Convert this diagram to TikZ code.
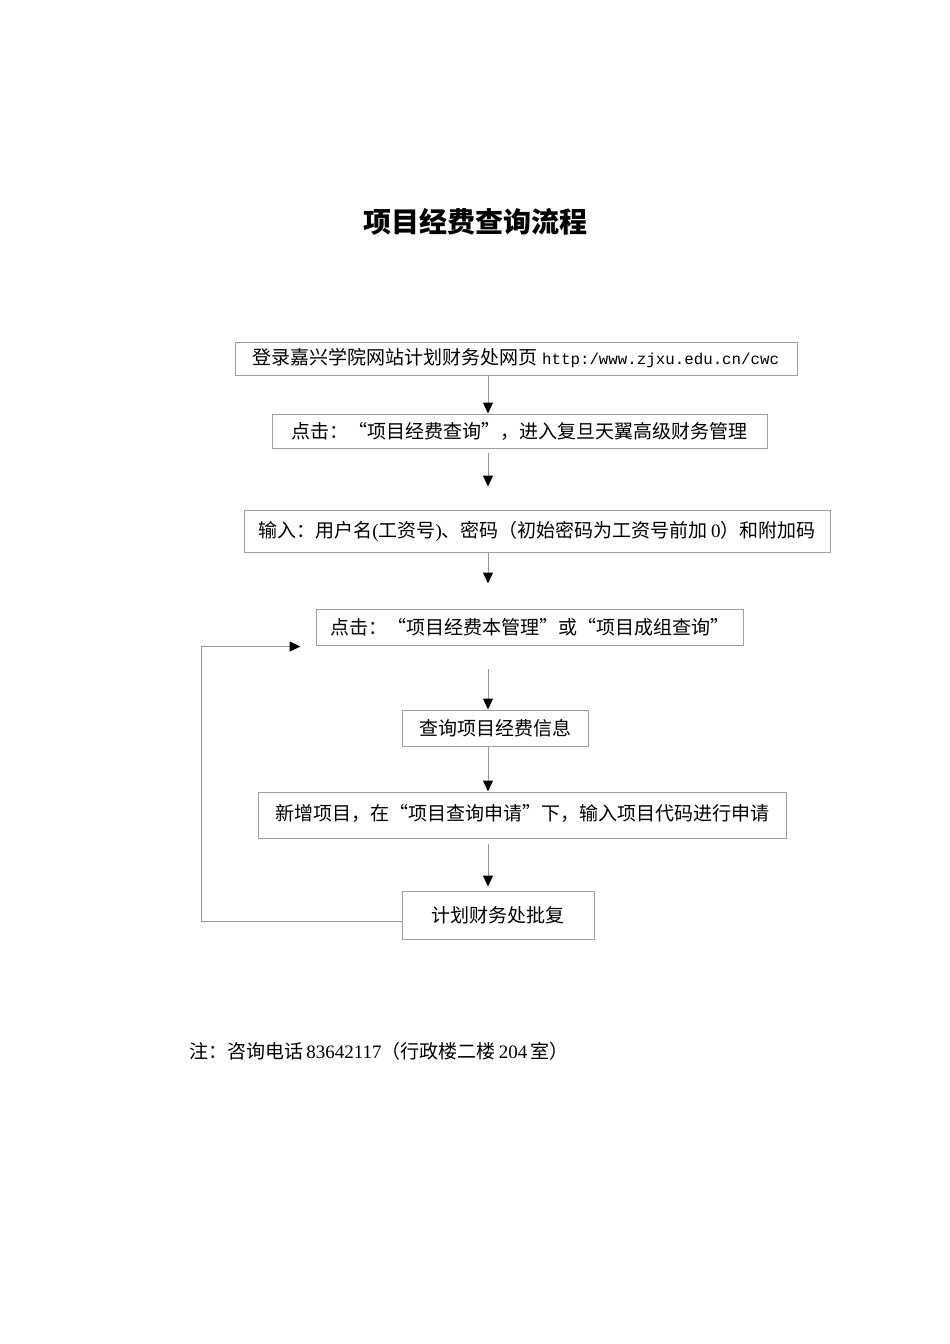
\documentclass[tikz,border=0pt]{standalone}
\usepackage{fontspec}
\setmainfont{Noto Sans CJK SC}
\newfontfamily\urlfont{Liberation Mono}
\newfontfamily\numfont{Liberation Serif}
\usetikzlibrary{arrows.meta}
\definecolor{boxgray}{RGB}{160,160,160}
\definecolor{linegray}{RGB}{150,150,150}
\tikzset{
  box/.style={draw=boxgray, line width=1pt, inner sep=0pt, font=\fontsize{19}{22}\selectfont},
  conn/.style={draw=linegray, line width=1pt, -{Triangle[length=11pt,width=10pt,black]}},
  titletext/.style={font=\fontsize{28}{32}\selectfont\bfseries},
  notetext/.style={anchor=west, inner sep=0pt, font=\fontsize{19}{22}\selectfont},
}
\begin{document}
\begin{tikzpicture}[x=1pt,y=-1pt]
\useasboundingbox (0,0) rectangle (950,1344);
\node[titletext] (title) at (475,222) {项目经费查询流程};
\coordinate (ax) at (488,0);
\coordinate (lx) at (201,0);
\node[box, minimum width=562pt, minimum height=33pt] (b1) at (516,358.5) {登录嘉兴学院网站计划财务处网页 {\urlfont\fontsize{15.8}{19}\selectfont http:/www.zjxu.edu.cn/cwc}};
\node[box, minimum width=495pt, minimum height=34pt] (b2) at (519.5,431) {点击：“项目经费查询”，进入复旦天翼高级财务管理};
\node[box, minimum width=586pt, minimum height=42pt] (b3) at (537,531) {\raisebox{4pt}{输入：用户名{\numfont (}工资号{\numfont )}、密码（初始密码为工资号前加\,{\numfont 0}）和附加码}};
\node[box, minimum width=427pt, minimum height=36pt] (b4) at (529.5,627) {点击：“项目经费本管理”或“项目成组查询”};
\node[box, minimum width=186pt, minimum height=36pt] (b5) at (495,728) {查询项目经费信息};
\node[box, minimum width=528pt, minimum height=46pt] (b6) at (522,815) {\raisebox{5pt}{新增项目，在“项目查询申请”下，输入项目代码进行申请}};
\node[box, minimum width=192pt, minimum height=48pt] (b7) at (498,915) {\raisebox{2pt}{计划财务处批复}};
\draw[conn] (b1.south -| ax) -- (b2.north -| ax);
\draw[conn, shorten <=4pt, shorten >=23pt] (b2.south -| ax) -- (b3.north -| ax);
\draw[conn, shorten >=25pt] (b3.south -| ax) -- (b4.north -| ax);
\draw[conn, shorten <=23pt] (b4.south -| ax) -- (b5.north -| ax);
\draw[conn] (b5.south -| ax) -- (b6.north -| ax);
\draw[conn, shorten <=5pt, shorten >=4pt] (b6.south -| ax) -- (b7.north -| ax);
\coordinate (lb) at ([yshift=-6pt]b7.west);
\draw[conn, shorten >=15pt] (lb) -- (lb -| lx) |- ([yshift=-1pt]b4.south west);
\node[notetext] (note) at (189,1051) {注：咨询电话\,{\numfont 83642117}（行政楼二楼\,{\numfont 204}\,室）};
\end{tikzpicture}
\end{document}
